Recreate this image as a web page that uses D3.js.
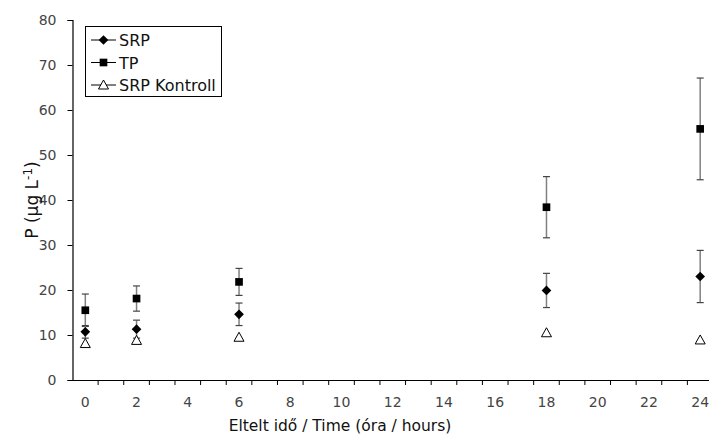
<!DOCTYPE html>
<html>
<head>
<meta charset="utf-8">
<script src="https://cdn.jsdelivr.net/npm/d3@7"></script>
<style>
  body { margin: 0; background: #fff; }
  svg { font-family: "DejaVu Sans", "Liberation Sans", Arial, sans-serif; display: block; }
</style>
</head>
<body>
<div id="chart"></div>
<script>
// hours 0..24 as categories, data only at some of them
const hours = d3.range(0, 25);
const tickHours = [0, 2, 4, 6, 8, 10, 12, 14, 16, 18, 20, 22, 24];
const yTicks = [0, 10, 20, 30, 40, 50, 60, 70, 80];

const sampleHours = [0, 2, 6, 18, 24];
const srp = [10.7, 11.3, 14.6, 19.9, 23.0];
const srpErr = [1.4, 2.0, 2.5, 3.8, 5.8];
const tp = [15.5, 18.1, 21.8, 38.4, 55.8];
const tpErr = [3.6, 2.8, 3.0, 6.8, 11.3];
const srpKontroll = [8.1, 8.8, 9.5, 10.5, 8.9];

const width = 709, height = 435;
const margin = { top: 20, right: -4, bottom: 55, left: 72.5 };
const fontFam = "DejaVu Sans, Liberation Sans, Arial, sans-serif";

const svg = d3.select("#chart").append("svg")
    .attr("width", width)
    .attr("height", height);

const x = d3.scaleBand()
    .domain(hours)
    .range([margin.left, width - margin.right]);

const y = d3.scaleLinear()
    .domain([0, 80])
    .range([height - margin.bottom, margin.top]);

const y0 = y(0);

// y axis
const yAxis = svg.append("g")
    .attr("transform", `translate(${margin.left},0)`)
    .call(d3.axisLeft(y).tickValues(yTicks).tickSize(5).tickPadding(11));
yAxis.select(".domain").attr("stroke", "#000").attr("stroke-width", 1.2);
yAxis.selectAll(".tick line").attr("stroke", "#000");
yAxis.selectAll(".tick text")
    .attr("font-size", "14px")
    .attr("fill", "#444")
    .attr("font-family", fontFam);

// x axis: labels centred in categories, ticks on boundaries
const xAxis = svg.append("g")
    .attr("transform", `translate(0,${y0})`)
    .call(d3.axisBottom(x).tickValues(tickHours).tickSize(0).tickPadding(17));
xAxis.select(".domain").attr("stroke", "#000").attr("stroke-width", 1.2);
xAxis.selectAll(".tick text")
    .attr("font-size", "14px")
    .attr("fill", "#444")
    .attr("font-family", fontFam);

const boundaries = hours.map(h => x(h)).concat([x(24) + x.bandwidth()]);
svg.append("g").selectAll("line")
    .data(boundaries.slice(1))
    .join("line")
    .attr("x1", d => d).attr("x2", d => d)
    .attr("y1", y0).attr("y2", y0 + 5)
    .attr("stroke", "#000");

// axis titles
svg.append("text")
    .attr("x", 340)
    .attr("y", 431)
    .attr("text-anchor", "middle")
    .attr("font-size", "15.5px")
    .attr("fill", "#111")
    .text("Eltelt idő / Time (óra / hours)");

const yTitle = svg.append("text")
    .attr("transform", `translate(38,${y(40)})rotate(-90)`)
    .attr("text-anchor", "middle")
    .attr("font-size", "17px")
    .attr("fill", "#111");
yTitle.append("tspan").text("P (µg L");
yTitle.append("tspan").attr("dy", -6).attr("font-size", "12px").text("-1");
yTitle.append("tspan").attr("dy", 6).text(")");

const cx = h => x(h) + x.bandwidth() / 2;

// error bars
function errorBars(values, errs) {
    const g = svg.append("g").attr("stroke", "#808080").attr("stroke-width", 1.5);
    sampleHours.forEach((h, i) => {
        const px = cx(h);
        const top = y(values[i] + errs[i]), bot = y(values[i] - errs[i]);
        g.append("line").attr("x1", px).attr("x2", px).attr("y1", top).attr("y2", bot);
        g.append("line").attr("x1", px - 3.5).attr("x2", px + 3.5).attr("y1", top).attr("y2", top)
            .attr("stroke", "#444").attr("stroke-width", 1.2);
        g.append("line").attr("x1", px - 3.5).attr("x2", px + 3.5).attr("y1", bot).attr("y2", bot)
            .attr("stroke", "#444").attr("stroke-width", 1.2);
    });
}
errorBars(tp, tpErr);
errorBars(srp, srpErr);

const diamond = d3.symbol().type(d3.symbolDiamond2).size(60)();
const square = d3.symbol().type(d3.symbolSquare2).size(75)();
const triangle = "M0,-5L5,4L-5,4Z";

function markers(values, path, fill) {
    svg.append("g").selectAll("path")
        .data(values)
        .join("path")
        .attr("transform", (d, i) => `translate(${cx(sampleHours[i])},${y(d)})`)
        .attr("d", path)
        .attr("fill", fill)
        .attr("stroke", "#000")
        .attr("stroke-width", fill === "#fff" ? 1 : 0);
}
markers(srpKontroll, triangle, "#fff");
markers(srp, diamond, "#000");
markers(tp, square, "#000");

// legend
const legendItems = [
    { name: "SRP", path: diamond, fill: "#000" },
    { name: "TP", path: square, fill: "#000" },
    { name: "SRP Kontroll", path: triangle, fill: "#fff" }
];
const legend = svg.append("g");
legend.append("rect")
    .attr("x", 85.5).attr("y", 26.5)
    .attr("width", 136).attr("height", 70)
    .attr("fill", "#fff").attr("stroke", "#000");
legendItems.forEach((d, i) => {
    const ly = 40 + i * 22.5;
    legend.append("line")
        .attr("x1", 91).attr("x2", 116).attr("y1", ly).attr("y2", ly)
        .attr("stroke", "#000");
    legend.append("path")
        .attr("transform", `translate(103.5,${ly})`)
        .attr("d", d.path)
        .attr("fill", d.fill)
        .attr("stroke", "#000")
        .attr("stroke-width", d.fill === "#fff" ? 1 : 0);
    legend.append("text")
        .attr("x", 119).attr("y", ly + 6)
        .attr("font-size", "16px")
        .attr("fill", "#111")
        .attr("font-family", fontFam)
        .text(d.name);
});
</script>
</body>
</html>
